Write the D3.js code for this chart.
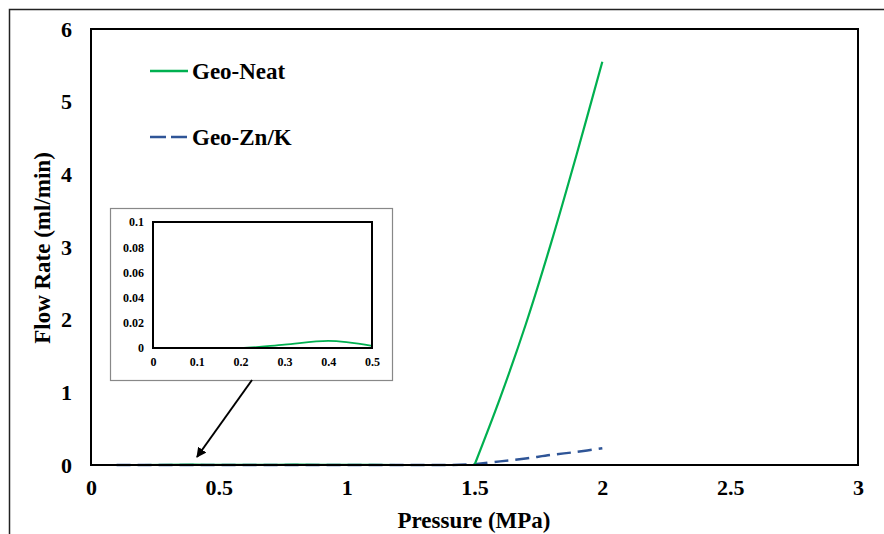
<!DOCTYPE html>
<html><head><meta charset="utf-8">
<script src="https://cdn.jsdelivr.net/npm/d3@7"></script>
<style>body{margin:0;background:#fff}svg{display:block}text{font-family:"Liberation Serif","Times New Roman",serif;font-weight:bold;fill:#000}</style>
</head><body>
<svg id="c" width="884" height="534"></svg>
<script>
// ---- data ----
const pressure = [0.1,0.2,0.3,0.4,0.5,0.6,0.7,0.8,0.9,1.0,1.1,1.2,1.3,1.4,1.5,1.6,1.7,1.8,1.9,2.0];
const geoNeat  = [0,0,0.003,0.006,0.0015,0.002,0.003,0.004,0.003,0.002,0.001,0,0,0,0,0.92,1.93,3.06,4.28,5.55];
const geoZnK   = [0,0,0,0,0,0,0,0,0,0,0,0,0,0,0.01,0.05,0.09,0.14,0.18,0.23];
const xTicks = [0,0.5,1,1.5,2,2.5,3];
const yTicks = [0,1,2,3,4,5,6];
const insetPressure = [0.1,0.2,0.3,0.4,0.5];
const insetNeat = [0,0,0.0027,0.0056,0.0016];
const insetZnK  = [0,0,0,0,0];
const insetXTicks = [0,0.1,0.2,0.3,0.4,0.5];
const insetYTicks = [0,0.02,0.04,0.06,0.08,0.1];
const seriesNames = ["Geo-Neat","Geo-Zn/K"];
const onsetPressure = 1.5;

const svg = d3.select("#c");
const green = "#00B050", blue = "#2F5597", lightBlue = "#1E9BE0";
const FONT = "Liberation Serif";

// outer frame
svg.append("path").attr("d","M9.5,534 L9.5,9.5 L884,9.5").attr("fill","none").attr("stroke","#222").attr("stroke-width",1.5);

const x = d3.scaleLinear().domain([0,3]).range([91,858]);
const y = d3.scaleLinear().domain([0,6]).range([465,29]);

function styleAxis(g, size){
  g.select(".domain").remove();
  g.attr("font-family",FONT);
  g.selectAll("text").attr("font-size",size).attr("font-family",FONT).attr("font-weight","bold").attr("fill","#000");
}
const xAx = svg.append("g").attr("transform","translate(0,465)")
  .call(d3.axisBottom(x).tickValues(xTicks).tickSize(0).tickPadding(14).tickFormat(d=>String(d)));
styleAxis(xAx,22);
const yAx = svg.append("g").attr("transform","translate(91,0)")
  .call(d3.axisLeft(y).tickValues(yTicks).tickSize(0).tickPadding(19).tickFormat(d=>String(d)));
styleAxis(yAx,22);

svg.append("text").attr("x",474).attr("y",528).attr("text-anchor","middle").attr("font-size",23).text("Pressure (MPa)");
svg.append("text").attr("transform","translate(50,248) rotate(-90)").attr("text-anchor","middle").attr("font-size",23).text("Flow Rate (ml/min)");

// lines: flat part (monotone) + rising part (catmull-rom), joined at onset pressure
const flat = d3.line().x(d=>x(d[0])).y(d=>y(d[1])).curve(d3.curveMonotoneX);
const rise = d3.line().x(d=>x(d[0])).y(d=>y(d[1])).curve(d3.curveCatmullRom.alpha(0.5));
function drawSeries(vals, color, width, dash){
  const pts = pressure.map((p,i)=>[p,vals[i]]);
  const a = pts.filter(d=>d[0]<=onsetPressure), b = pts.filter(d=>d[0]>=onsetPressure);
  svg.append("path").attr("d", flat(a) + rise(b).replace(/^M/,"L"))
    .attr("fill","none").attr("stroke",color).attr("stroke-width",width).attr("stroke-dasharray",dash);
}
drawSeries(geoZnK, blue, 2.5, "14,7");
drawSeries(geoNeat, green, 2.2, null);

// plot border
svg.append("rect").attr("x",91).attr("y",29).attr("width",767).attr("height",436)
  .attr("fill","none").attr("stroke","#000").attr("stroke-width",2);

// legend
const leg = [{n:seriesNames[0],c:green,d:null,yy:71},{n:seriesNames[1],c:blue,d:"16,5",yy:137}];
leg.forEach(l=>{
  svg.append("line").attr("x1",150).attr("x2",188).attr("y1",l.yy).attr("y2",l.yy)
    .attr("stroke",l.c).attr("stroke-width",2.5).attr("stroke-dasharray",l.d);
  svg.append("text").attr("x",192).attr("y",l.yy+8).attr("font-size",23).text(l.n);
});

// inset
svg.append("rect").attr("x",110.5).attr("y",208.5).attr("width",282).attr("height",172)
  .attr("fill","#fff").attr("stroke","#888").attr("stroke-width",1.2);
const ix = d3.scaleLinear().domain([0,0.5]).range([153,372]);
const iy = d3.scaleLinear().domain([0,0.1]).range([348,222]);
const ixAx = svg.append("g").attr("transform","translate(0,348)")
  .call(d3.axisBottom(ix).tickValues(insetXTicks).tickSize(0).tickPadding(9).tickFormat(d=>String(d)));
styleAxis(ixAx,12);
const iyAx = svg.append("g").attr("transform","translate(153,0)")
  .call(d3.axisLeft(iy).tickValues(insetYTicks).tickSize(0).tickPadding(9).tickFormat(d=>String(d)));
styleAxis(iyAx,12);
const iline = d3.line().x(d=>ix(d[0])).y(d=>iy(d[1])).curve(d3.curveMonotoneX);
svg.append("path").datum(insetPressure.map((p,i)=>[p,insetNeat[i]])).attr("d",iline)
  .attr("fill","none").attr("stroke",green).attr("stroke-width",1.8);
svg.append("path").datum(insetPressure.map((p,i)=>[p,insetZnK[i]])).attr("d",iline)
  .attr("fill","none").attr("stroke",lightBlue).attr("stroke-width",2);
svg.append("rect").attr("x",153).attr("y",222).attr("width",219).attr("height",126)
  .attr("fill","none").attr("stroke","#000").attr("stroke-width",2);

// arrow
svg.append("defs").append("marker").attr("id","ah").attr("viewBox","0 0 10 10").attr("refX",9).attr("refY",5)
  .attr("markerWidth",5).attr("markerHeight",5).attr("orient","auto")
  .append("path").attr("d","M0,0 L10,5 L0,10 z").attr("fill","#000");
svg.append("line").attr("x1",252).attr("y1",380).attr("x2",197).attr("y2",457)
  .attr("stroke","#000").attr("stroke-width",2).attr("marker-end","url(#ah)");
</script>
</body></html>
